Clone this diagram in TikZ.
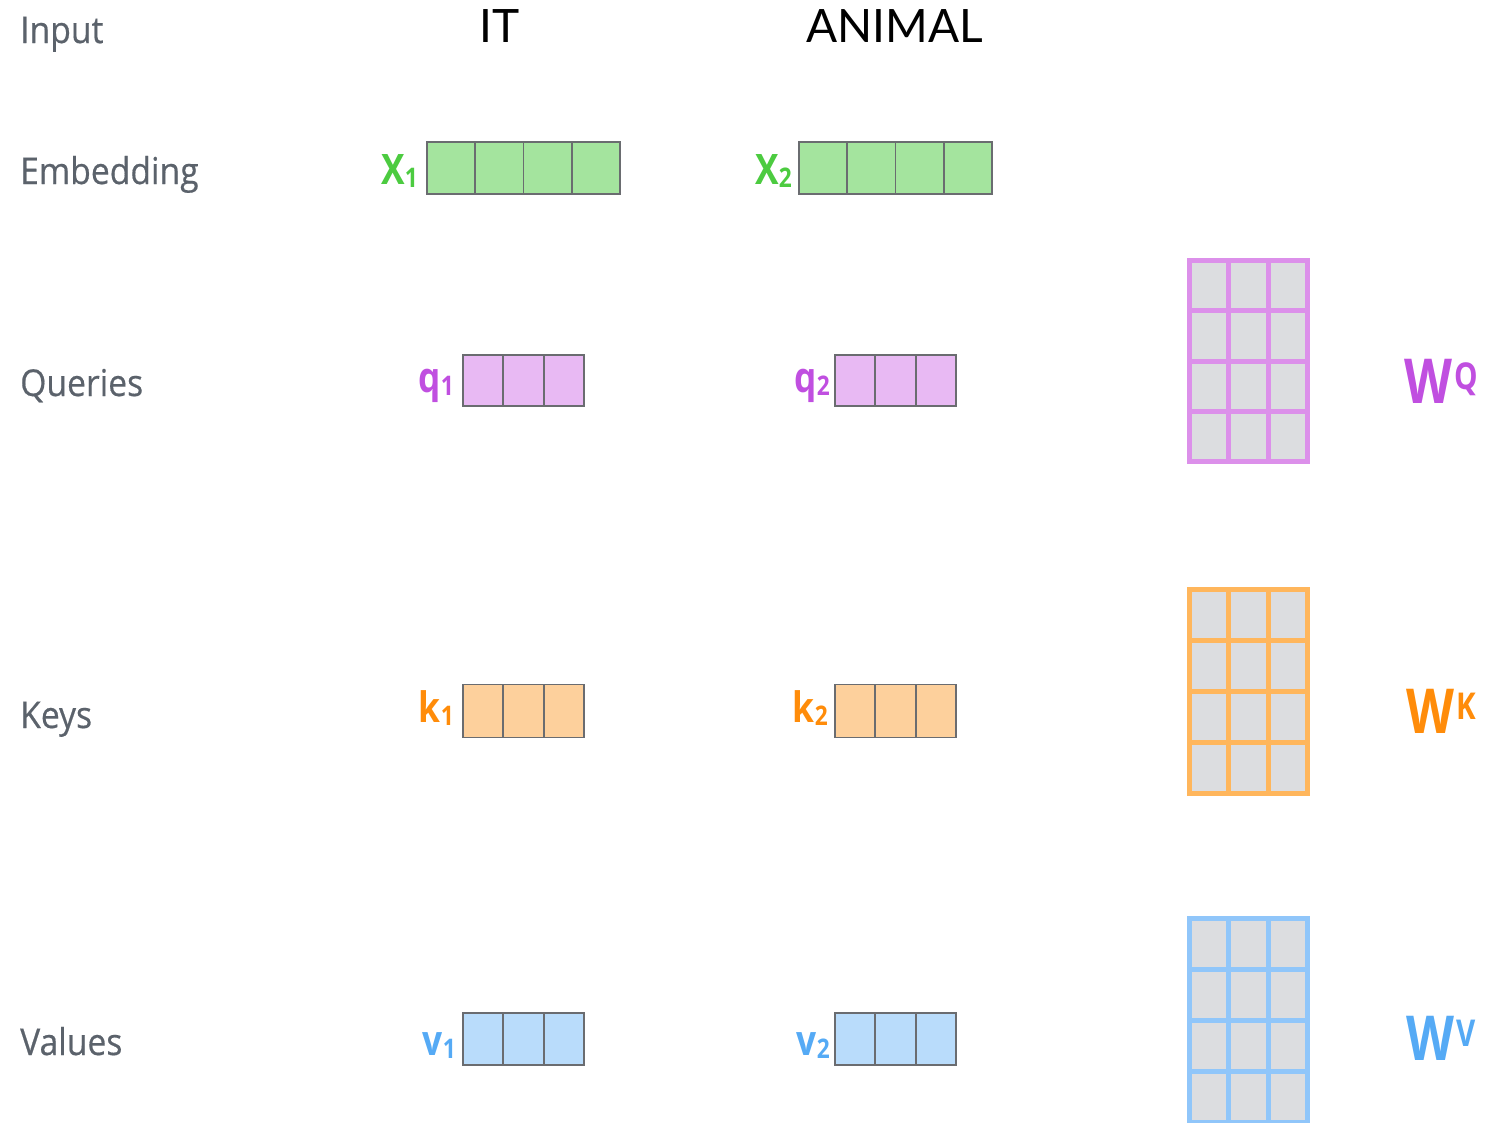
\documentclass[tikz,border=0pt]{standalone}
\usepackage{fontspec}
\setmainfont{Open Sans}
\newfontfamily\titlefont{Lato}
\newfontfamily\rowfont{Open Sans}[FakeBold=0.5]
\usetikzlibrary{calc}
\definecolor{lblgray}{HTML}{5B626B}
\definecolor{cellline}{HTML}{6A6C70}
\definecolor{xfill}{HTML}{A4E49E}
\definecolor{qfill}{HTML}{E8B9F3}
\definecolor{kfill}{HTML}{FDD09C}
\definecolor{vfill}{HTML}{B9DCFB}
\definecolor{xtxt}{HTML}{4CCB40}
\definecolor{qtxt}{HTML}{C04FE0}
\definecolor{ktxt}{HTML}{FF8C0A}
\definecolor{vtxt}{HTML}{55AAF5}
\definecolor{matcell}{HTML}{DCDDE0}
\definecolor{wqline}{HTML}{DC90EA}
\definecolor{wkline}{HTML}{FFB65C}
\definecolor{wvline}{HTML}{90C6FA}
\newcommand{\veclabel}[2]{\scalebox{0.84}[1]{#1\raisebox{-3pt}{\fontsize{27}{30}\selectfont #2}}}
\newcommand{\wlabel}[1]{\scalebox{0.8}[1]{W\hspace{3pt}\raisebox{14pt}{\fontsize{37}{40}\selectfont #1}}}
\begin{document}
\begin{tikzpicture}[x=1pt,y=-1pt,
  rowlbl/.style={anchor=base west, inner sep=0, text=lblgray, font=\rowfont\fontsize{37}{40}\selectfont},
  ttl/.style={anchor=base, inner sep=0, font=\titlefont\fontsize{46}{50}\selectfont},
  cellbox/.style={draw=cellline, line width=1.8pt, inner sep=0, outer sep=0, anchor=north west},
  xcell/.style={cellbox, fill=xfill, minimum width=48.25pt, minimum height=52pt},
  qcell/.style={cellbox, fill=qfill, minimum width=40.3pt, minimum height=51pt},
  kcell/.style={cellbox, fill=kfill, minimum width=40.3pt, minimum height=53pt},
  vcell/.style={cellbox, fill=vfill, minimum width=40.3pt, minimum height=52pt},
  veclbl/.style={anchor=base east, inner sep=0, font=\bfseries\fontsize{42}{46}\selectfont},
  wlbl/.style={anchor=base west, inner sep=0, font=\bfseries\fontsize{62}{66}\selectfont},
  wmat/.style={line width=5pt, fill=matcell, inner sep=0, outer sep=0, anchor=north west, minimum width=118pt},
  gridln/.style={line width=5pt},
]
\useasboundingbox (0,0) rectangle (1502,1122);
\clip (0,0) rectangle (1502,1122);

% row labels
\node[rowlbl] (linput) at (20,43) {\scalebox{0.91}[1]{Input}};
\node[rowlbl] (lemb) at (20,184) {\scalebox{0.91}[1]{Embedding}};
\node[rowlbl] (lque) at (20,396) {\scalebox{0.91}[1]{Queries}};
\node[rowlbl] (lkey) at (20,728) {\scalebox{0.91}[1]{Keys}};
\node[rowlbl] (lval) at (20,1055) {\scalebox{0.91}[1]{Values}};

% titles
\node[ttl] (tit) at (500,42) {IT};
\node[ttl] (tanimal) at (895,42) {ANIMAL};

% embeddings
\foreach \i in {0,...,3} {
  \node[xcell] (xa\i) at ({427+48.25*\i},142) {};
  \node[xcell] (xb\i) at ({799+48.25*\i},142) {};
}
\foreach \i in {0,...,2} {
  \node[qcell] (qa\i) at ({463+40.3*\i},355) {};
  \node[qcell] (qb\i) at ({835+40.3*\i},355) {};
  \node[kcell] (ka\i) at ({463+40.3*\i},684.5) {};
  \node[kcell] (kb\i) at ({835+40.3*\i},684.5) {};
  \node[vcell] (va\i) at ({463+40.3*\i},1013) {};
  \node[vcell] (vb\i) at ({835+40.3*\i},1013) {};
}

% vector labels
\node[veclbl, text=xtxt] (lx1) at (418,184) {\veclabel{X}{1}};
\node[veclbl, text=xtxt] (lx2) at (792,184) {\veclabel{X}{2}};
\node[veclbl, text=qtxt] (lq1) at (454,392) {\veclabel{q}{1}};
\node[veclbl, text=qtxt] (lq2) at (830,392) {\veclabel{q}{2}};
\node[veclbl, text=ktxt] (lk1) at (454,722) {\veclabel{k}{1}};
\node[veclbl, text=ktxt] (lk2) at (828,722) {\veclabel{k}{2}};
\node[veclbl, text=vtxt] (lv1) at (456,1055) {\veclabel{v}{1}};
\node[veclbl, text=vtxt] (lv2) at (830,1055) {\veclabel{v}{2}};

% weight matrices
\node[wmat, draw=wqline, minimum height=201pt] (wq) at (1189.5,260.5) {};
\node[wmat, draw=wkline, minimum height=204pt] (wk) at (1189.5,589.5) {};
\node[wmat, draw=wvline, minimum height=204pt] (wv) at (1189.5,918.5) {};
\foreach \m/\c in {wq/wqline, wk/wkline, wv/wvline} {
  \foreach \f in {0.3333,0.6667}
    \draw[gridln, \c] ($(\m.north west)!\f!(\m.north east)$) -- ($(\m.south west)!\f!(\m.south east)$);
  \foreach \f in {0.25,0.5,0.75}
    \draw[gridln, \c] ($(\m.north west)!\f!(\m.south west)$) -- ($(\m.north east)!\f!(\m.south east)$);
}

% weight labels
\node[wlbl, text=qtxt] (lwq) at (1404,403) {\wlabel{Q}};
\node[wlbl, text=ktxt] (lwk) at (1406,733) {\wlabel{K}};
\node[wlbl, text=vtxt] (lwv) at (1406,1060) {\wlabel{V}};
\end{tikzpicture}
\end{document}
